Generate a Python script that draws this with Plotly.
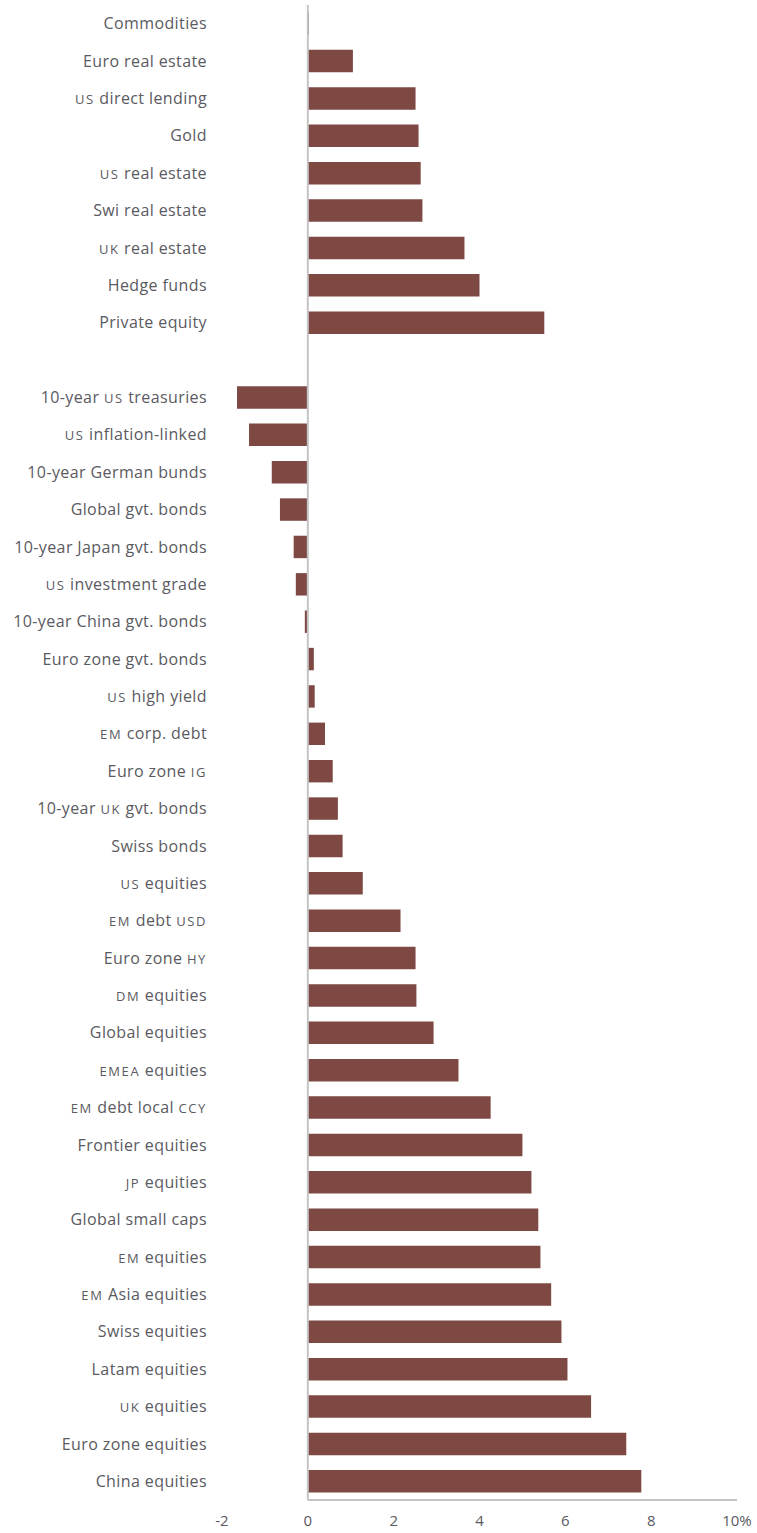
import plotly.graph_objects as go

SC = '<span style="font-size:13px;letter-spacing:1.6px">{}</span>'

def sc(s):
    return SC.format(s)

categories = [
    "Commodities", "Euro real estate", sc("US") + " direct lending", "Gold",
    sc("US") + " real estate", "Swi real estate", sc("UK") + " real estate",
    "Hedge funds", "Private equity", " ",
    "10-year " + sc("US") + " treasuries", sc("US") + " inflation-linked",
    "10-year German bunds", "Global gvt. bonds", "10-year Japan gvt. bonds",
    sc("US") + " investment grade", "10-year China gvt. bonds",
    "Euro zone gvt. bonds", sc("US") + " high yield", sc("EM") + " corp. debt",
    "Euro zone " + sc("IG"), "10-year " + sc("UK") + " gvt. bonds", "Swiss bonds",
    sc("US") + " equities", sc("EM") + " debt " + sc("USD"), "Euro zone " + sc("HY"),
    sc("DM") + " equities", "Global equities", sc("EMEA") + " equities",
    sc("EM") + " debt local " + sc("CCY"), "Frontier equities", sc("JP") + " equities",
    "Global small caps", sc("EM") + " equities", sc("EM") + " Asia equities",
    "Swiss equities", "Latam equities", sc("UK") + " equities",
    "Euro zone equities", "China equities",
]

values = [
    0.02, 1.05, 2.51, 2.58, 2.63, 2.67, 3.65, 4.0, 5.51, None,
    -1.65, -1.37, -0.84, -0.65, -0.33, -0.28, -0.07,
    0.14, 0.16, 0.40, 0.58, 0.70, 0.81,
    1.28, 2.16, 2.51, 2.53, 2.93, 3.51, 4.26, 5.0, 5.21,
    5.37, 5.42, 5.67, 5.91, 6.05, 6.6, 7.42, 7.77,
]

x_tickvals = [-2, 0, 2, 4, 6, 8, 10]
x_ticktext = ["-2", "0", "2", "4", "6", "8", "10%"]

BAR = "#7E4942"
GREY = "#5a5a5f"
LINE = "#c4c4c4"

y_ticktext = ['<span style="letter-spacing:0.4px">' + c + '</span>' for c in categories]

fig = go.Figure(go.Bar(
    x=values, y=categories, orientation="h",
    marker=dict(color=BAR, line=dict(width=0)),
    width=0.6,
))

fig.update_layout(
    width=757, height=1533,
    margin=dict(l=222, r=20, t=5, b=33, autoexpand=False),
    paper_bgcolor="white", plot_bgcolor="white",
    font=dict(family="Open Sans, Lato, sans-serif", size=16, color=GREY),
    showlegend=False,
    bargap=0.4,
)
fig.update_xaxes(
    range=[-2, 10], tickvals=x_tickvals, ticktext=x_ticktext,
    showgrid=False, zeroline=False, showline=False, ticks="",
    ticklabelstandoff=10, automargin=False,
    tickfont=dict(size=15, color=GREY),
)
fig.update_yaxes(
    type="category", autorange="reversed", showgrid=False, zeroline=False,
    showline=False, ticks="", ticklabelstandoff=14, automargin=False,
    tickvals=categories, ticktext=y_ticktext,
    tickfont=dict(size=16, color=GREY),
)
fig.add_shape(type="line", xref="x", yref="paper", x0=0, x1=0, y0=0, y1=1,
              line=dict(color=LINE, width=2))
fig.add_shape(type="line", xref="x", yref="paper", x0=0, x1=10, y0=0, y1=0,
              line=dict(color=LINE, width=2))

fig.write_html("out.html")
